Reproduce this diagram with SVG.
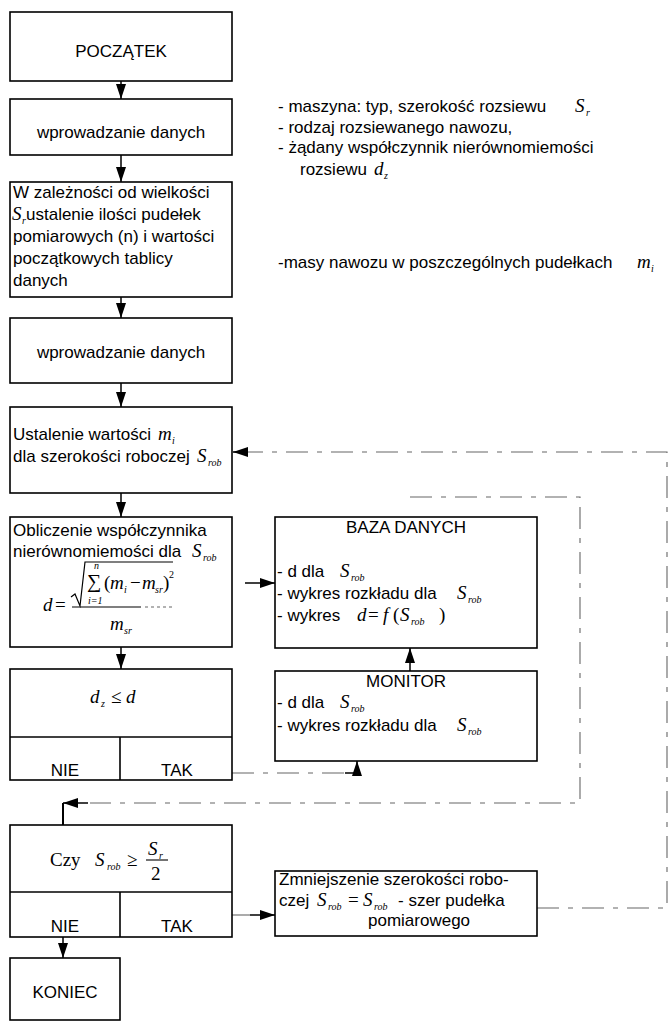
<svg xmlns="http://www.w3.org/2000/svg" width="668" height="1021" viewBox="0 0 668 1021">
<style>
.box{fill:#fff;stroke:#000;stroke-width:1.6}
.dv{stroke:#000;stroke-width:1.6;fill:none}
.t{font-family:"Liberation Sans",Arial,sans-serif;font-size:17px;fill:#000}
.c{text-anchor:middle}
.m{font-family:"Liberation Serif","DejaVu Serif",serif;font-style:italic;font-size:19px;fill:#000}
.s{font-family:"Liberation Serif","DejaVu Serif",serif;font-style:italic;font-size:10px;fill:#000}
.r{font-family:"Liberation Serif","DejaVu Serif",serif;font-size:19px;fill:#000}
.ln{stroke:#000;stroke-width:1.5;fill:none}
.fa{stroke:#666;stroke-width:1.1;fill:none;stroke-dasharray:22 9 5 9}
</style>
<defs>
<marker id="ah" viewBox="0 0 10 10" refX="10" refY="5" markerWidth="15" markerHeight="10" markerUnits="userSpaceOnUse" orient="auto" preserveAspectRatio="none"><path d="M0,0 L10,5 L0,10 z" fill="#000"/></marker>
</defs>
<rect width="668" height="1021" fill="#fff"/>

<g id="connectors">
<path class="ln" d="M121,81 V99" marker-end="url(#ah)"/>
<path class="ln" d="M121,155 V182" marker-end="url(#ah)"/>
<path class="ln" d="M121,297 V318" marker-end="url(#ah)"/>
<path class="ln" d="M121,383 V407" marker-end="url(#ah)"/>
<path class="ln" d="M121,493 V517" marker-end="url(#ah)"/>
<path class="ln" d="M121,647 V669" marker-end="url(#ah)"/>
<path class="ln" d="M63,937 V958" marker-end="url(#ah)"/>
<path class="ln" d="M245,583 H275" marker-end="url(#ah)"/>
<path class="ln" d="M410,671 V648" marker-end="url(#ah)"/>
<path class="fa" d="M232,773 H345"/>
<path class="ln" d="M345,773 H357 V761" marker-end="url(#ah)"/>
<path class="fa" d="M537,908 H667 V452 H245"/>
<path class="ln" d="M248,452 H233" marker-end="url(#ah)"/>
<path class="fa" d="M410,497 H580 V803 H90"/>
<path class="ln" d="M88,803 H63" marker-end="url(#ah)"/>
<path class="ln" d="M63,803 V825" style="stroke-width:2"/>
<path class="fa" d="M232,915 H250"/>
<path class="ln" d="M250,915 H275" marker-end="url(#ah)"/>
</g>

<g id="start">
<rect class="box" x="10" y="12" width="222" height="69"/>
<text class="t c" x="121" y="57">POCZĄTEK</text>
</g>

<g id="input1">
<rect class="box" x="10" y="99" width="222" height="56"/>
<text class="t c" x="121" y="138">wprowadzanie danych</text>
</g>

<g id="init">
<rect class="box" x="10" y="182" width="222" height="115"/>
<text class="t" x="13" y="198">W zależności od wielkości</text>
<text class="m" x="12" y="220">S</text><text class="s" x="22" y="224">r</text>
<text class="t" x="26" y="220">ustalenie ilości pudełek</text>
<text class="t" x="13" y="242">pomiarowych (n) i wartości</text>
<text class="t" x="13" y="264">początkowych tablicy</text>
<text class="t" x="13" y="286">danych</text>
</g>

<g id="input2">
<rect class="box" x="10" y="318" width="222" height="65"/>
<text class="t c" x="121" y="358">wprowadzanie danych</text>
</g>

<g id="set-m">
<rect class="box" x="10" y="407" width="222" height="86"/>
<text class="t" x="13" y="440">Ustalenie wartości</text>
<text class="m" x="158" y="440">m</text><text class="s" x="172" y="444">i</text>
<text class="t" x="13" y="462">dla szerokości roboczej</text>
<text class="m" x="197" y="462">S</text><text class="s" x="208" y="466">rob</text>
</g>

<g id="calc">
<rect class="box" x="10" y="517" width="222" height="130"/>
<text class="t" x="13" y="536">Obliczenie współczynnika</text>
<text class="t" x="13" y="557">nierównomiemości dla</text>
<text class="m" x="192" y="557">S</text><text class="s" x="203" y="561">rob</text>
<text class="m" x="43" y="611">d</text>
<text class="r" x="55" y="611">=</text>
<polyline class="ln" style="stroke-width:1.2" points="71,597 75,594 80,606 85,562 173,562"/>
<text class="r" x="87" y="588" style="font-size:20px">∑</text>
<text class="s" x="94" y="569">n</text>
<text class="s" x="88" y="604">i=1</text>
<text class="r" x="104" y="589">(</text>
<text class="m" x="110" y="589">m</text><text class="s" x="124" y="593">i</text>
<text class="r" x="130" y="589">−</text>
<text class="m" x="142" y="589">m</text><text class="s" x="155" y="593">sr</text>
<text class="r" x="163" y="589">)</text>
<text class="s" x="169" y="578" style="font-style:normal">2</text>
<line class="ln" style="stroke-width:1.2" x1="72" y1="607" x2="141" y2="607"/>
<line class="fa" style="stroke-dasharray:3 3" x1="145" y1="607" x2="173" y2="607"/>
<text class="m" x="110" y="630">m</text><text class="s" x="124" y="634">sr</text>
</g>

<g id="cond-d">
<rect class="box" x="10" y="669" width="222" height="111"/>
<line class="dv" x1="10" y1="737" x2="232" y2="737"/>
<line class="dv" x1="120" y1="737" x2="120" y2="780"/>
<text class="m" x="90" y="703">d</text><text class="s" x="101" y="707">z</text>
<text class="r" x="111" y="703">≤</text>
<text class="m" x="126" y="703">d</text>
<text class="t c" x="65" y="776">NIE</text>
<text class="t c" x="177" y="776">TAK</text>
</g>

<g id="cond-s">
<rect class="box" x="10" y="825" width="222" height="112"/>
<line class="dv" x1="10" y1="892" x2="232" y2="892"/>
<line class="dv" x1="120" y1="892" x2="120" y2="937"/>
<text class="r" x="50" y="866">Czy</text>
<text class="m" x="95" y="866">S</text><text class="s" x="107" y="870">rob</text>
<text class="r" x="127" y="866">≥</text>
<text class="m" x="148" y="855">S</text><text class="s" x="159" y="859">r</text>
<line class="ln" style="stroke-width:1.1" x1="146" y1="860" x2="168" y2="860"/>
<text class="r" x="151" y="880">2</text>
<text class="t c" x="65" y="932">NIE</text>
<text class="t c" x="177" y="932">TAK</text>
</g>

<g id="end">
<rect class="box" x="10" y="958" width="110" height="62"/>
<text class="t c" x="65" y="998">KONIEC</text>
</g>

<g id="database">
<rect class="box" x="275" y="517" width="262" height="131"/>
<text class="t c" x="406" y="533">BAZA DANYCH</text>
<text class="t" x="277" y="577">- d dla</text>
<text class="m" x="340" y="577">S</text><text class="s" x="351" y="581">rob</text>
<text class="t" x="277" y="599">- wykres rozkładu dla</text>
<text class="m" x="457" y="599">S</text><text class="s" x="468" y="603">rob</text>
<text class="t" x="277" y="621">- wykres</text>
<text class="m" x="357" y="621">d</text>
<text class="r" x="368" y="621">=</text>
<text class="m" x="383" y="621">f</text>
<text class="r" x="393" y="621">(</text>
<text class="m" x="400" y="621">S</text><text class="s" x="411" y="625">rob</text>
<text class="r" x="439" y="621">)</text>
</g>

<g id="monitor">
<rect class="box" x="275" y="671" width="262" height="90"/>
<text class="t c" x="406" y="687">MONITOR</text>
<text class="t" x="277" y="708">- d dla</text>
<text class="m" x="340" y="708">S</text><text class="s" x="351" y="712">rob</text>
<text class="t" x="277" y="731">- wykres rozkładu dla</text>
<text class="m" x="457" y="731">S</text><text class="s" x="468" y="735">rob</text>
</g>

<g id="reduce">
<rect class="box" x="275" y="871" width="262" height="65"/>
<text class="t" x="279" y="885">Zmniejszenie szerokości robo-</text>
<text class="t" x="279" y="906">czej</text>
<text class="m" x="317" y="906">S</text><text class="s" x="328" y="910">rob</text>
<text class="r" x="348" y="906">=</text>
<text class="m" x="363" y="906">S</text><text class="s" x="374" y="910">rob</text>
<text class="t" x="398" y="906">- szer pudełka</text>
<text class="t" x="368" y="926">pomiarowego</text>
</g>

<g id="notes">
<text class="t" x="278" y="112">- maszyna: typ, szerokość rozsiewu</text>
<text class="m" x="575" y="112">S</text><text class="s" x="586" y="116">r</text>
<text class="t" x="278" y="133">- rodzaj rozsiewanego nawozu,</text>
<text class="t" x="278" y="153">- żądany współczynnik nierównomiemości</text>
<text class="t" x="300" y="175">rozsiewu</text>
<text class="m" x="374" y="175">d</text><text class="s" x="384" y="179">z</text>
<text class="t" x="278" y="268">-masy nawozu w poszczególnych pudełkach</text>
<text class="m" x="637" y="268">m</text><text class="s" x="651" y="272">i</text>
</g>
</svg>
